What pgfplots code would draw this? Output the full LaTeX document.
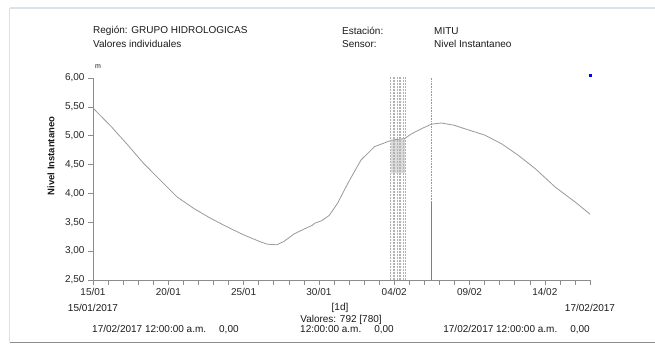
\documentclass[border=0pt]{standalone}
\usepackage{fontspec}
\setmainfont{Liberation Sans}
\usepackage{pgfplots}
\pgfplotsset{compat=1.18}

\begin{document}
\begin{tikzpicture}
  % page frame 655 x 344 (1px = 1pt)
  \useasboundingbox (0pt,0pt) rectangle (655pt,344pt);
  \draw[color={rgb,255:red,220;green,225;blue,238}, line width=1.2pt] (10pt,336pt) -- (655pt,336pt);
  \draw[black!12, line width=1pt] (9.5pt,336pt) -- (9.5pt,1.5pt);
  \draw[black!45, line width=1pt] (10pt,1.5pt) -- (655pt,1.5pt);

  \begin{axis}[
    at={(93pt,64pt)}, anchor=south west,
    width=497pt, height=202pt, scale only axis,
    xmin=0, xmax=33, ymin=2.5, ymax=6,
    axis x line*=bottom, axis y line*=left,
    axis line style={black!45, -},
    xtick={0,5,10,15,20,25,30},
    xticklabels={15/01,20/01,25/01,30/01,04/02,09/02,14/02},
    minor xtick={0,1,...,33},
    ytick={2.5,3,3.5,4,4.5,5,5.5,6},
    tick align=outside,
    major tick length=5pt, minor tick length=5pt,
    tick style={black!45, line width=0.5pt},
    yticklabel style={/pgf/number format/.cd, fixed, fixed zerofill, precision=2, use comma},
    /pgf/number format/assume math mode=true,
    ticklabel style={font=\fontsize{10}{12}\selectfont, text=black!85},
    clip=false,
  ]
    % denser part of the gap block
    \addplot[fill=black!14, draw=none] coordinates {(19.8,4.35) (20.7,4.35) (20.7,4.94) (19.8,4.92)} \closedcycle;
    % level series
    \addplot[black!40, line width=0.8pt] coordinates {
      (0,5.48) (1.24,5.15) (2.24,4.86) (3.36,4.52) (4.47,4.23) (5.58,3.94)
      (6.69,3.74) (7.8,3.57) (8.91,3.42) (10.02,3.28) (11.13,3.16) (11.58,3.12)
      (12.2,3.11) (12.69,3.17) (13.36,3.30) (14.0,3.38) (14.58,3.45) (14.7,3.48)
      (15.2,3.53) (15.69,3.62) (16.24,3.83) (16.91,4.17) (17.47,4.43) (17.8,4.58)
      (18.69,4.81) (19.8,4.92) (20.0,4.93) (20.69,4.95) (21.13,5.03) (21.8,5.12)
      (22.47,5.20) (23.13,5.22) (24.0,5.18) (24.69,5.12) (26.02,5.01) (27.13,4.86)
      (28.24,4.66) (29.36,4.43) (30.69,4.11) (32.02,3.85) (33.0,3.64)
    };
    % gap markers
    \addplot[black!30, densely dotted, line width=0.5pt] coordinates {(19.75,2.5) (19.75,6.02)};
    \addplot[black!30, densely dotted, line width=0.5pt] coordinates {(19.91,2.5) (19.91,6.02)};
    \addplot[black!30, densely dotted, line width=0.5pt] coordinates {(20.02,2.5) (20.02,6.02)};
    \addplot[black!30, densely dotted, line width=0.5pt] coordinates {(20.18,2.5) (20.18,6.02)};
    \addplot[black!30, densely dotted, line width=0.5pt] coordinates {(20.31,2.5) (20.31,6.02)};
    \addplot[black!30, densely dotted, line width=0.5pt] coordinates {(20.42,2.5) (20.42,6.02)};
    \addplot[black!30, densely dotted, line width=0.5pt] coordinates {(20.58,2.5) (20.58,6.02)};
    \addplot[black!30, densely dotted, line width=0.5pt] coordinates {(20.71,2.5) (20.71,6.02)};
    \addplot[black!40, densely dotted, line width=0.6pt] coordinates {(22.49,2.5) (22.49,6.02)};
    \addplot[black!50, line width=0.6pt] coordinates {(22.49,2.5) (22.49,3.85)};
    % marker
    \addplot[only marks, mark=square*, mark size=1.3pt, blue] coordinates {(33,6.05)};
  \end{axis}

  \begin{scope}[every node/.style={font=\fontsize{10}{12}\selectfont, text=black!90, inner sep=0pt}]
    \node[anchor=west] at (93pt,313pt) {Región: GRUPO HIDROLOGICAS};
    \node[anchor=west] at (93pt,300pt) {Valores individuales};
    \node[anchor=west] at (342pt,313pt) {Estación:};
    \node[anchor=west] at (434pt,313pt) {MITU};
    \node[anchor=west] at (342pt,300pt) {Sensor:};
    \node[anchor=west] at (434pt,300pt) {Nivel Instantaneo};
    \node[anchor=west, font=\fontsize{7}{8}\selectfont] at (95pt,277pt) {m};
    \node[rotate=90, font=\bfseries\fontsize{9.5}{11}\selectfont] at (51pt,188pt) {Nivel Instantaneo};
    \node at (93pt,36pt) {15/01/2017};
    \node at (590pt,36pt) {17/02/2017};
    \node at (340pt,36pt) {[1d]};
    \node at (341pt,24.5pt) {Valores: 792 [780]};
    \node[anchor=west] at (92pt,14.5pt) {17/02/2017 12:00:00 a.m.\hspace{13pt}0,00};
    \node[anchor=west] at (300pt,14.5pt) {12:00:00 a.m.\hspace{13pt}0,00};
    \node[anchor=east] at (590pt,14.5pt) {17/02/2017 12:00:00 a.m.\hspace{13pt}0,00};
  \end{scope}
\end{tikzpicture}
\end{document}
